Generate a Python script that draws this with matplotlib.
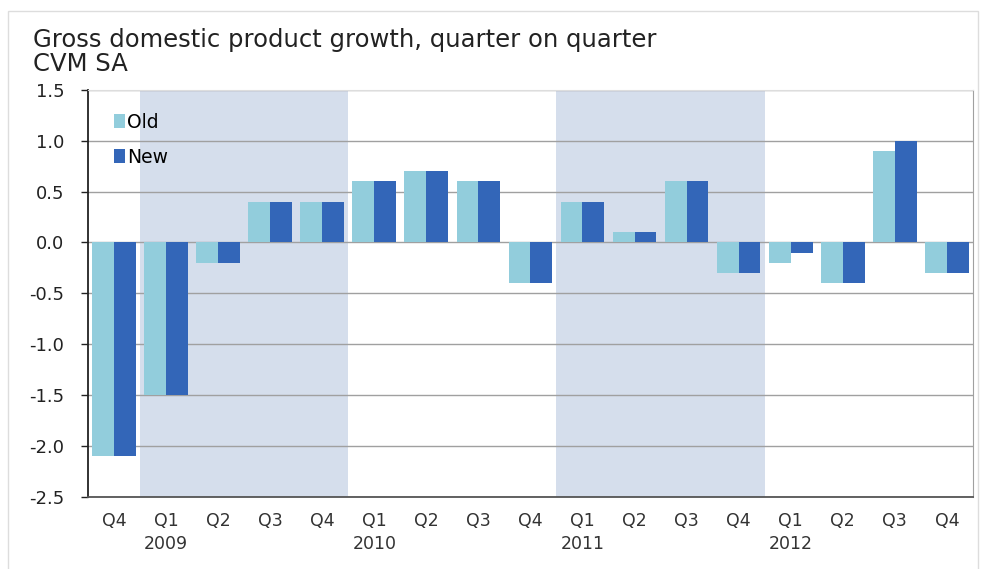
import matplotlib.pyplot as plt
from matplotlib.patches import Rectangle
import numpy as np

plt.rcParams['font.family'] = ['DejaVu Sans']

# quarters from 2008 Q4 to 2012 Q4
quarters = ["Q4", "Q1", "Q2", "Q3", "Q4", "Q1", "Q2", "Q3", "Q4",
            "Q1", "Q2", "Q3", "Q4", "Q1", "Q2", "Q3", "Q4"]
years = ["", "2009", "", "", "", "2010", "", "", "",
         "2011", "", "", "", "2012", "", "", ""]
old = [-2.1, -1.5, -0.2, 0.4, 0.4, 0.6, 0.7, 0.6, -0.4,
       0.4, 0.1, 0.6, -0.3, -0.2, -0.4, 0.9, -0.3]
new = [-2.1, -1.5, -0.2, 0.4, 0.4, 0.6, 0.7, 0.6, -0.4,
       0.4, 0.1, 0.6, -0.3, -0.1, -0.4, 1.0, -0.3]
shaded_years = [(1, 4), (9, 12)]  # index ranges of shaded quarters

c_old = "#92CDDC"
c_new = "#3366B8"
c_shade = "#D5DEEC"

fig = plt.figure(figsize=(9.81, 5.69), dpi=100)
fig.patches.append(Rectangle((0.008, -0.01), 0.989, 0.99, transform=fig.transFigure,
                             fill=False, edgecolor="#DDDDDD", linewidth=1))
ax = fig.add_axes([0.0897, 0.127, 0.902, 0.715])

x = np.arange(len(quarters))
w = 0.42
for a, b in shaded_years:
    ax.axvspan(a - 0.5, b + 0.5, color=c_shade, zorder=0, linewidth=0)

ax.yaxis.grid(True, color="#A0A0A0", linewidth=1, zorder=1)
ax.set_axisbelow(True)
ax.bar(x - w / 2, old, width=w, color=c_old, label="Old", zorder=2)
ax.bar(x + w / 2, new, width=w, color=c_new, label="New", zorder=2)

ax.set_xlim(-0.5, len(quarters) - 0.5)
ax.set_ylim(-2.5, 1.5)
ax.set_yticks(np.arange(-2.5, 1.51, 0.5))
ax.set_yticklabels([f"{v:.1f}" for v in np.arange(-2.5, 1.51, 0.5)], fontsize=13, color="#222222")
ax.set_xticks(x)
ax.set_xticklabels([q + ("\n" + y if y else "") for q, y in zip(quarters, years)],
                   fontsize=12.5, color="#333333", va="top", linespacing=1.35)
ax.tick_params(axis="x", length=0, pad=11)
ax.tick_params(axis="y", length=5, direction="out", width=1, color="#222222", pad=12)

ax.spines["left"].set_color("#222222")
ax.spines["left"].set_linewidth(1.3)
ax.spines["bottom"].set_color("#555555")
ax.spines["bottom"].set_linewidth(1.3)
ax.spines["right"].set_color("#A0A0A0")
ax.spines["top"].set_color("#DDDDDD")

leg = ax.legend(loc="upper left", bbox_to_anchor=(0.01, 0.985), frameon=False, fontsize=13.5,
                handlelength=0.6, handleheight=0.75, handletextpad=0.1, labelspacing=0.85)

fig.text(0.034, 0.918, "Gross domestic product growth, quarter on quarter", fontsize=17.5, color="#222222")
fig.text(0.034, 0.876, "CVM SA", fontsize=17.5, color="#222222")

fig.savefig("out.png", dpi=100)
